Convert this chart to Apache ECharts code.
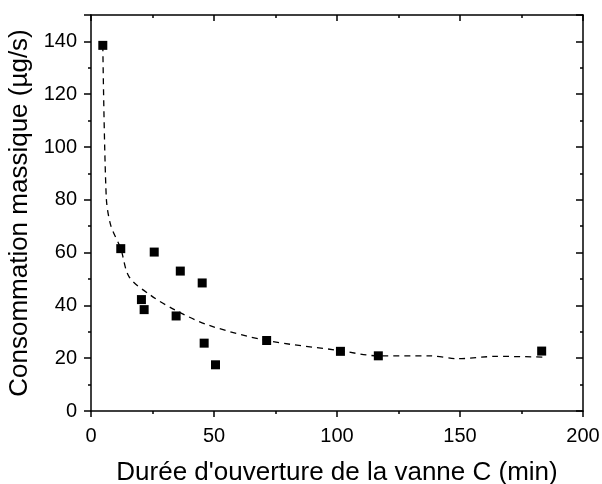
<!DOCTYPE html>
<html>
<head>
<meta charset="utf-8">
<script src="https://cdn.jsdelivr.net/npm/echarts@6/dist/echarts.min.js"></script>
<style>
  html, body { margin: 0; padding: 0; background: #fff; }
  #main { width: 602px; height: 484px; }
</style>
</head>
<body>
<div id="main"></div>
<script>
// mesures (durée en min, consommation en µg/s)
var duree = [4.8, 12.1, 20.5, 21.6, 25.7, 34.6, 36.3, 45.2, 46.0, 50.6, 71.4, 101.4, 116.8, 183.2];
var conso = [138.5, 61.5, 42.2, 38.4, 60.2, 36.0, 53.0, 48.5, 25.7, 17.5, 26.7, 22.6, 20.9, 22.7];

// courbe de tendance (pointillés)
var fitX = [4.8, 6.2, 8.0, 12.1, 15.5, 24.3, 34.5, 48.1, 71.4, 100.3, 116.8, 137.7, 149.2, 164.8, 185.2];
var fitY = [138.5, 81.0, 70.4, 61.5, 50.8, 43.8, 38.1, 32.4, 26.7, 23.0, 20.9, 20.9, 19.8, 20.7, 20.4];

var xTicks = [0, 50, 100, 150, 200];
var yTicks = [0, 20, 40, 60, 80, 100, 120, 140];

var font = 'Liberation Sans, Arial, sans-serif';
var black = '#000';

var chart = echarts.init(document.getElementById('main'));

function pairs(xs, ys) {
  return xs.map(function (x, i) { return [x, ys[i]]; });
}

var line = { onZero: false, lineStyle: { color: black, width: 1.5 } };
function minor(len) {
  return { show: true, splitNumber: 2, length: len, lineStyle: { color: black, width: 1.5 } };
}

chart.setOption({
  animation: false,
  grid: { left: 91, top: 15, right: 19, bottom: 73, outerBoundsMode: 'none' },
  xAxis: [
    {
      type: 'value', min: xTicks[0], max: xTicks[xTicks.length - 1], interval: 50,
      position: 'bottom',
      name: "Durée d'ouverture de la vanne C (min)",
      nameLocation: 'middle', nameGap: 49,
      nameTextStyle: { fontFamily: font, fontSize: 26, color: black },
      axisLine: line,
      axisTick: { inside: false, length: 6, lineStyle: { color: black, width: 1.5 } },
      minorTick: minor(3),
      axisLabel: { fontFamily: font, fontSize: 20, color: black, margin: 15 },
      splitLine: { show: false }
    },
    {
      type: 'value', min: 0, max: 200, interval: 50,
      position: 'top',
      axisLine: line,
      axisTick: { inside: true, length: 6, lineStyle: { color: black, width: 1.5 } },
      minorTick: minor(3),
      axisLabel: { show: false },
      splitLine: { show: false }
    }
  ],
  yAxis: [
    {
      type: 'value', min: 0, max: 150, interval: 20,
      position: 'left',
      name: 'Consommation massique (µg/s)',
      nameLocation: 'middle', nameGap: 49,
      nameTextStyle: { fontFamily: font, fontSize: 26, color: black },
      axisLine: line,
      axisTick: { inside: false, length: 7, lineStyle: { color: black, width: 1.5 } },
      minorTick: minor(3),
      axisLabel: {
        fontFamily: font, fontSize: 20, color: black, margin: 14,
        formatter: function (v) { return yTicks.indexOf(v) >= 0 ? v : ''; }
      },
      splitLine: { show: false }
    },
    {
      type: 'value', min: 0, max: 150, interval: 20,
      position: 'right',
      axisLine: line,
      axisTick: { inside: true, length: 7, lineStyle: { color: black, width: 1.5 } },
      minorTick: minor(3),
      axisLabel: { show: false },
      splitLine: { show: false }
    }
  ],
  series: [
    {
      type: 'line',
      data: pairs(fitX, fitY),
      smooth: 0.3,
      symbol: 'none',
      lineStyle: { color: black, width: 1.3, type: [6, 5] },
      z: 2
    },
    {
      type: 'scatter',
      data: pairs(duree, conso),
      symbol: 'rect',
      symbolSize: 9,
      itemStyle: { color: black, opacity: 1 },
      z: 3
    }
  ]
});
</script>
</body>
</html>
